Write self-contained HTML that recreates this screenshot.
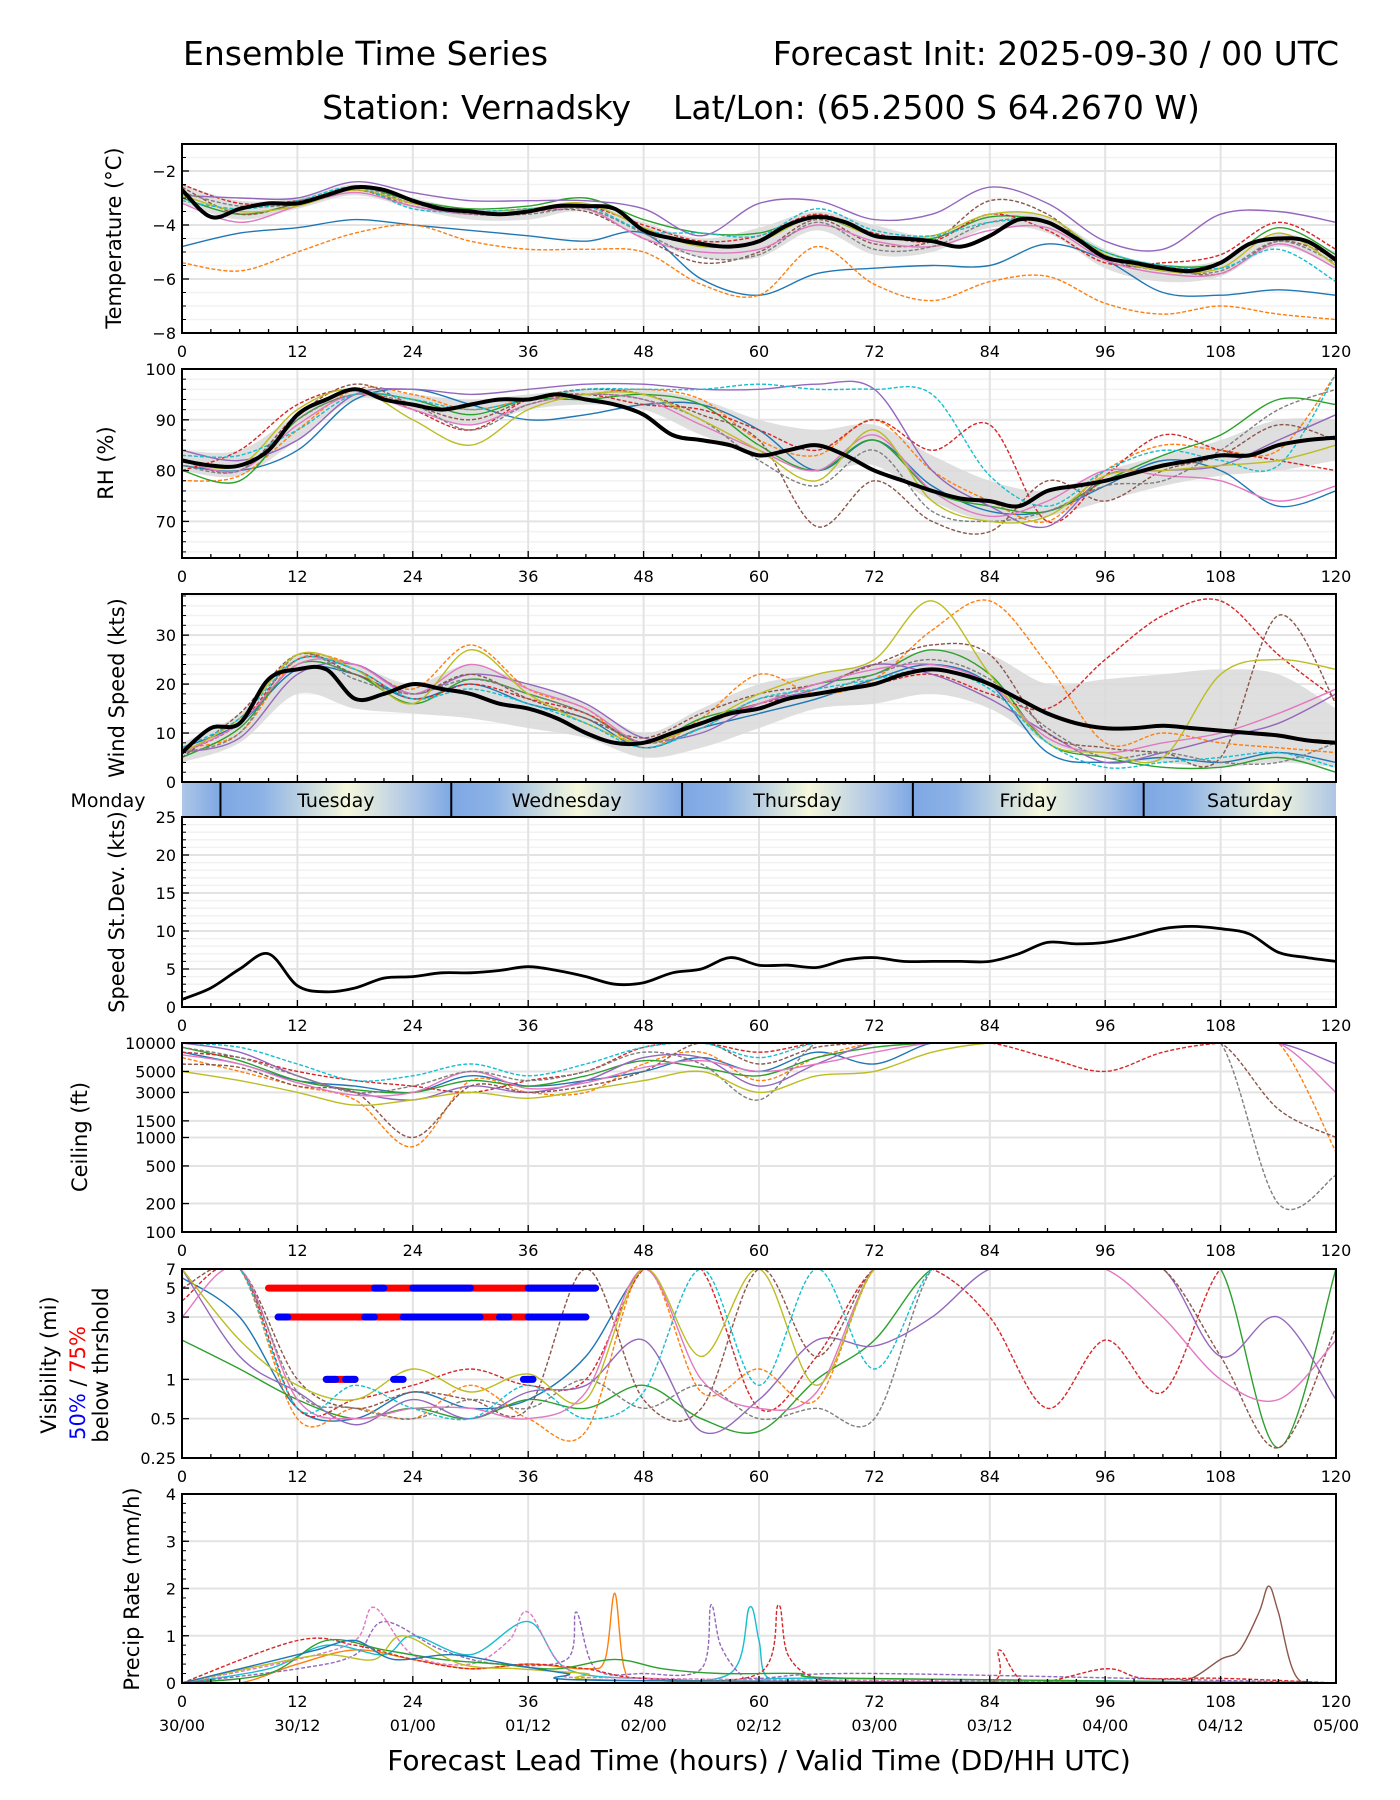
<!DOCTYPE html>
<html><head><meta charset="utf-8">
<style>
html,body{margin:0;padding:0;background:#fff;}
svg{display:block;font-family:"DejaVu Sans","Liberation Sans",sans-serif;}
</style></head>
<body>
<svg id="fig" width="1400" height="1800" viewBox="0 0 1400 1800" xmlns="http://www.w3.org/2000/svg">
<text x="183" y="65" font-size="33">Ensemble Time Series</text>
<text x="1339" y="65" font-size="33" text-anchor="end">Forecast Init: 2025-09-30 / 00 UTC</text>
<text x="761" y="119" font-size="33" text-anchor="middle" xml:space="preserve">Station: Vernadsky    Lat/Lon: (65.2500 S 64.2670 W)</text>
<text x="759" y="1770" font-size="28" text-anchor="middle">Forecast Lead Time (hours) / Valid Time (DD/HH UTC)</text>
</svg>
<script>
// ===== data =====
const hours3 = [0,3,6,9,12,15,18,21,24,27,30,33,36,39,42,45,48,51,54,57,60,63,66,69,72,75,78,81,84,87,90,93,96,99,102,105,108,111,114,117,120];
const hours6 = [0,6,12,18,24,30,36,42,48,54,60,66,72,78,84,90,96,102,108,114,120];
const xTicks = [0,12,24,36,48,60,72,84,96,108,120];
const dateLabels = ["30/00","30/12","01/00","01/12","02/00","02/12","03/00","03/12","04/00","04/12","05/00"];
const dayNames = ["Monday","Tuesday","Wednesday","Thursday","Friday","Saturday"];
const dayBounds = [-20,4,28,52,76,100,124];

const tempMean = [-2.7,-3.7,-3.4,-3.2,-3.2,-2.9,-2.6,-2.7,-3.1,-3.4,-3.5,-3.6,-3.5,-3.3,-3.3,-3.4,-4.2,-4.5,-4.7,-4.8,-4.6,-4.0,-3.7,-3.9,-4.4,-4.5,-4.6,-4.8,-4.4,-3.8,-3.9,-4.5,-5.2,-5.4,-5.6,-5.7,-5.4,-4.7,-4.5,-4.6,-5.3];
const tempLo = [-3.2,-3.8,-3.4,-2.9,-3.4,-3.8,-3.8,-3.5,-4.5,-5.2,-5.2,-4.2,-5.1,-5.0,-4.1,-4.3,-5.6,-6.1,-5.9,-4.8,-5.6];
const tempHi = [-2.5,-3.1,-3.0,-2.5,-3.0,-3.4,-3.4,-3.2,-3.9,-4.5,-4.1,-3.5,-4.0,-4.4,-3.6,-3.7,-4.9,-5.5,-5.3,-4.3,-5.0];
const tempMembers = [
 [-4.8,-4.3,-4.1,-3.8,-4.0,-4.2,-4.4,-4.6,-4.3,-6.0,-6.6,-5.8,-5.6,-5.5,-5.5,-4.7,-5.3,-6.5,-6.6,-6.4,-6.6],
 [-5.4,-5.7,-5.0,-4.3,-4.0,-4.6,-4.9,-4.9,-5.0,-6.2,-6.6,-4.8,-6.2,-6.8,-6.1,-5.9,-6.9,-7.3,-7.0,-7.3,-7.5],
 [-3.0,-3.6,-3.2,-2.6,-3.1,-3.4,-3.3,-3.0,-3.8,-4.3,-4.3,-3.7,-4.4,-4.5,-3.7,-3.9,-5.0,-5.5,-5.4,-4.1,-5.1],
 [-2.5,-3.2,-3.1,-2.7,-3.2,-3.5,-3.4,-3.3,-4.0,-4.6,-4.4,-3.6,-4.3,-4.6,-3.6,-4.2,-5.4,-5.4,-5.1,-3.9,-4.9],
 [-2.9,-3.0,-3.0,-2.4,-2.8,-3.1,-3.1,-3.1,-3.4,-4.4,-3.2,-3.1,-3.8,-3.6,-2.6,-3.2,-4.6,-4.9,-3.6,-3.5,-3.9],
 [-2.6,-3.6,-3.2,-2.7,-3.3,-3.6,-3.5,-3.5,-4.5,-5.4,-5.0,-3.8,-4.7,-4.6,-3.1,-3.6,-5.3,-5.6,-5.8,-4.6,-5.2],
 [-3.2,-3.9,-3.3,-2.8,-3.3,-3.6,-3.5,-3.4,-4.5,-5.0,-4.9,-4.0,-4.6,-4.8,-4.2,-4.1,-5.3,-5.8,-5.8,-4.7,-5.6],
 [-2.8,-3.3,-3.2,-2.6,-3.2,-3.6,-3.6,-3.4,-4.3,-5.2,-5.1,-3.9,-4.9,-4.8,-3.9,-3.9,-5.2,-5.7,-5.7,-4.6,-5.4],
 [-2.9,-3.5,-3.3,-2.7,-3.2,-3.5,-3.4,-3.2,-4.1,-4.8,-4.6,-3.7,-4.4,-4.4,-3.6,-3.7,-5.1,-5.7,-5.6,-4.3,-5.5],
 [-3.1,-3.4,-3.1,-2.6,-3.4,-3.5,-3.4,-3.3,-4.2,-4.3,-4.4,-3.4,-4.2,-4.4,-3.9,-3.9,-5.0,-5.5,-5.6,-4.9,-6.1]
];

const rhMean = [82,81,81,84,91,94,96,94,93,92,93,94,94,95,94,93,91,87,86,85,83,84,85,83,80,78,76,74.5,74,73,76,77,78,79.5,81,82,83,83,85,86,86.5];
const rhLo = [80,79,86,94,92,89,92,93,92,87,83,80,81,74,70,71,74,77,79,80,82];
const rhHi = [84,84,91,96,95,94,95,96,96,94,90,88,89,83,78,76,80,83,86,90,90];
const rhMembers = [
 [81,80,84,94,96,93,90,91,93,93,88,80,86,77,72,72,77,82,80,73,76],
 [78,79,88,96,95,92,94,95,96,94,86,83,90,80,74,70,80,85,84,84,99],
 [80,78,90,95,94,91,94,94,95,93,85,80,86,76,73,72,78,83,87,94,93],
 [80,84,93,96,92,88,94,95,93,92,88,84,90,84,89,70,79,87,84,82,80],
 [84,82,86,95,96,95,96,97,97,96,96,97,96,80,73,69,79,80,81,86,91],
 [82,80,91,97,93,90,94,96,95,91,86,69,78,70,68,78,74,80,83,89,86],
 [82,80,89,95,92,89,93,95,94,89,84,80,87,76,71,74,80,79,78,74,77],
 [81,80,90,95,93,88,93,95,94,90,82,77,84,72,70,72,77,78,84,92,96],
 [82,81,92,96,90,85,92,95,95,90,84,78,88,74,70,71,79,80,81,82,85],
 [83,83,88,95,94,92,94,96,96,96,97,96,96,95,79,73,80,84,82,81,99]
];

const windMean = [6,11,12,21,23,23,17,18,20,19,18,16,15,13,10,8,8,10,12,14,15,17,18,19,20,22,23,22,20,17,14,12,11,11,11.5,11,10.5,10,9.5,8.5,8];
const windLo = [4,8,18,15,14,13,11,9,5,7,11,15,16,18,15,8,5,4,3,4,3];
const windHi = [8,14,26,24,20,24,20,16,10,15,20,22,24,27,26,20,21,22,23,22,15];
const windMembers = [
 [7,12,23,22,17,20,16,13,7,11,14,17,21,24,20,6,4,5,4,6,4],
 [7,10,25,24,19,28,19,15,7,13,22,18,21,31,37,24,8,10,8,7,6],
 [5,11,24,22,16,21,18,14,8,13,16,20,22,27,22,8,5,3,3,5,2],
 [6,12,25,23,17,20,17,14,8,12,16,18,20,22,18,15,25,34,37,26,17],
 [6,9,22,24,18,22,20,16,9,10,16,19,24,22,17,10,4,6,9,12,18],
 [5,14,26,22,18,22,17,13,9,14,18,20,24,28,26,10,7,6,5,34,16],
 [6,12,24,24,18,24,19,15,8,12,16,20,23,24,20,9,6,8,10,14,19],
 [6,10,26,21,18,21,18,14,8,11,17,18,22,25,21,11,5,6,4,4,8],
 [6,13,26,23,16,27,18,12,8,12,18,22,25,37,22,8,6,5,22,25,23],
 [7,13,25,23,17,19,16,12,7,11,17,19,21,23,19,8,3,4,5,6,3]
];

const sdevVals = [1,2.5,5,7,2.8,2,2.5,3.8,4,4.5,4.5,4.8,5.3,4.8,4,3,3.2,4.5,5,6.5,5.5,5.5,5.2,6.2,6.5,6,6,6,6,7,8.5,8.3,8.5,9.3,10.3,10.6,10.3,9.6,7.2,6.5,6];

const ceilMembers = [
 [8000,6000,4000,3500,3000,4500,3500,4000,5000,7000,5000,8000,6000,10000,10000,10000,10000,10000,10000,10000,10000],
 [7000,5000,3500,2500,800,4000,3000,3000,6000,8000,4000,7000,10000,10000,10000,10000,10000,10000,10000,10000,700],
 [9000,6500,4000,3200,3000,4000,3500,4500,6500,5500,4500,7000,9000,10000,10000,10000,10000,10000,10000,10000,10000],
 [8000,7000,5000,4000,3500,3000,4000,5000,9000,10000,8000,10000,10000,10000,10000,7000,5000,8000,10000,10000,10000],
 [10000,8000,4500,3000,2500,3500,3000,4000,7000,7000,3500,6000,10000,10000,10000,10000,10000,10000,10000,10000,6000],
 [6000,5500,3500,3000,1000,3500,3000,3500,5000,10000,6000,9000,10000,10000,10000,10000,10000,10000,10000,2000,1000],
 [7500,6000,3800,2800,3000,5000,3300,3800,5500,6500,5000,6000,8000,10000,10000,10000,10000,10000,10000,10000,3000],
 [9000,7000,4500,3000,3500,5000,4000,5000,8000,6000,2500,10000,10000,10000,10000,10000,10000,10000,10000,200,400],
 [5000,4000,3000,2200,2500,3000,2600,3200,4000,5000,3000,4500,5000,8000,10000,10000,10000,10000,10000,10000,10000],
 [10000,9000,6000,4000,4500,6000,4500,6000,9000,10000,7000,10000,10000,10000,10000,10000,10000,10000,10000,10000,10000]
];
const ceilTicks = [100,200,500,1000,1500,3000,5000,10000];

const visMembers = [
 [6,3,0.6,0.5,0.8,0.6,0.7,1.5,7,7,7,7,7,7,7,7,7,7,7,7,7],
 [7,7,0.5,0.6,0.5,0.9,0.5,0.4,7,0.8,1.2,0.7,7,7,7,7,7,7,7,7,7],
 [2,1.2,0.7,0.5,0.6,0.5,0.7,0.6,0.9,0.5,0.4,1,2,7,7,7,7,7,7,0.3,7],
 [4,7,0.6,0.7,0.9,1.2,0.9,1,7,7,0.6,1.5,7,7,3,0.6,2,0.8,7,7,7],
 [7,1.5,0.8,0.45,0.7,0.5,0.8,0.9,2,0.4,0.7,2,1.8,3,7,7,7,7,1.5,3,0.7],
 [5,7,1,0.6,0.8,0.7,0.6,7,0.7,0.6,7,1.5,7,7,7,7,7,7,1.5,0.3,2.5],
 [3,7,0.7,0.5,0.6,0.6,0.5,0.8,7,1,0.6,0.8,7,7,7,7,7,3,1,0.7,2],
 [7,7,0.8,0.6,0.5,0.7,0.6,1,0.6,0.9,0.5,0.6,0.5,7,7,7,7,7,7,7,7],
 [7,2,0.9,0.7,1.2,0.8,1.1,0.7,7,1.5,7,0.9,7,7,7,7,7,7,7,7,7],
 [7,7,0.6,0.9,0.6,0.5,0.9,0.5,0.8,7,0.9,7,1.2,7,7,7,7,7,7,7,7]
];
const visTicks = [0.25,0.5,1,3,5,7];
// threshold segments [startHour, endHour]
const vis5Red = [[9,43]];
const vis5Blue = [[20,21],[24,30],[36,43]];
const vis3Red = [[10,42]];
const vis3Blue = [[10,11],[19,20],[23,31],[33,34],[36,42]];
const vis1Red = [[15,18]];
const vis1Blue = [[15,16],[17,18],[22,23],[35.5,36.5]];

const precipHours = [
 [0,96,102,105,108,110,112,113,114,116,120],
 [0,6,12,18,24,30,36,42,44,45,46,48,60,120],
 [0,9,15,21,24,30,36,40,48,57,59,60,61,66,120],
 [0,12,18,21,27,33,40,41,43,48,54,55,56,58,60,72,120],
 [0,12,18,24,30,36,42,48,60,62,63,66,72,84,85,88,96,100,108,120],
 [0,12,18,20,24,30,34,36,40,48,120],
 [0,9,15,21,27,33,39,45,50,56,64,70,120],
 [0,9,15,20,23,29,35,42,48,120],
 [0,10,14,18,22,28,34,40,46,120]
];
const precipVals = [
 [0,0,0,0.1,0.5,0.7,1.5,2.05,1.5,0.1,0],
 [0,0,0.4,0.7,0.5,0.3,0.4,0.3,0.5,1.9,0.3,0.1,0,0],
 [0,0.3,0.8,0.6,1.0,0.6,1.3,0.3,0.1,0.2,1.6,0.9,0.1,0.1,0],
 [0,0.3,0.6,1.3,0.7,0.4,0.5,1.5,0.3,0.2,0.3,1.65,0.8,0.2,0.1,0.2,0],
 [0,0.9,0.8,0.5,0.3,0.4,0.3,0.1,0.2,1.65,0.6,0.1,0,0,0.7,0,0.3,0.1,0.1,0],
 [0,0.5,0.9,1.6,0.6,0.4,0.9,1.5,0.3,0.1,0],
 [0,0.2,0.9,0.7,0.5,0.4,0.3,0.5,0.3,0.2,0.2,0.1,0],
 [0,0.4,0.6,0.5,1.0,0.4,0.3,0.2,0.05,0],
 [0,0.5,0.7,0.9,0.5,0.6,0.4,0.2,0.05,0]
];
const precipColors = ["#8c564b","#ff7f0e","#17becf","#9467bd","#d62728","#e377c2","#2ca02c","#bcbd22","#1f77b4"];
const precipDash = [false,false,false,true,true,true,false,false,false];

// ===== drawing =====
const NS = "http://www.w3.org/2000/svg";
const svg = document.getElementById("fig");
const X0 = 182, X1 = 1336;
const tab = ["#1f77b4","#ff7f0e","#2ca02c","#d62728","#9467bd","#8c564b","#e377c2","#7f7f7f","#bcbd22","#17becf"];
function xs(h){ return X0 + h/120*(X1-X0); }
function mk(tag, attrs, parent){
  const e = document.createElementNS(NS, tag);
  for (const k in attrs) e.setAttribute(k, attrs[k]);
  (parent||svg).appendChild(e);
  return e;
}
function smoothPath(pts){
  if (pts.length < 2) return "";
  let d = "M" + pts[0][0].toFixed(1) + "," + pts[0][1].toFixed(1);
  for (let i = 0; i < pts.length-1; i++){
    const p0 = pts[Math.max(0,i-1)], p1 = pts[i], p2 = pts[i+1], p3 = pts[Math.min(pts.length-1,i+2)];
    const c1x = p1[0]+(p2[0]-p0[0])/6, c1y = p1[1]+(p2[1]-p0[1])/6;
    const c2x = p2[0]-(p3[0]-p1[0])/6, c2y = p2[1]-(p3[1]-p1[1])/6;
    d += "C"+c1x.toFixed(1)+","+c1y.toFixed(1)+" "+c2x.toFixed(1)+","+c2y.toFixed(1)+" "+p2[0].toFixed(1)+","+p2[1].toFixed(1);
  }
  return d;
}
let clipId = 0;
function panel(name, top, bottom, ymin, ymax, log){
  const ys = v => {
    if (log){ const a=Math.log(ymin), b=Math.log(ymax); return bottom - (Math.log(v)-a)/(b-a)*(bottom-top); }
    return bottom - (v-ymin)/(ymax-ymin)*(bottom-top);
  };
  const g = mk("g", {});
  
  
  const cp = mk("clipPath", {id:"cp"+(++clipId)}, g);
  mk("rect", {x:X0, y:top, width:X1-X0, height:bottom-top}, cp);
  const plot = mk("g", {"clip-path":"url(#cp"+clipId+")"}, g);
  return {g, plot, ys, top, bottom, name};
}
function grid(P, majors, minors){
  const gg = mk("g", {}, P.plot);
  
  
  (minors||[]).forEach(v => mk("line", {x1:X0,x2:X1,y1:P.ys(v),y2:P.ys(v),stroke:"#f2f2f2","stroke-width":1.5}, gg));
  majors.forEach(v => mk("line", {x1:X0,x2:X1,y1:P.ys(v),y2:P.ys(v),stroke:"#e3e3e3","stroke-width":2}, gg));
  xTicks.forEach(h => mk("line", {x1:xs(h),x2:xs(h),y1:P.top,y2:P.bottom,stroke:"#e3e3e3","stroke-width":2}, gg));
}
function frame(P, yTicks, yLabels, minorY, xlabels){
  const g = P.g;
  mk("rect", {x:X0, y:P.top, width:X1-X0, height:P.bottom-P.top, fill:"none", stroke:"#000", "stroke-width":2}, g);
  for (let h=0; h<=120; h+=3){
    const major = h%12===0;
    mk("line", {x1:xs(h),x2:xs(h),y1:P.bottom,y2:P.bottom-(major?7:4),stroke:"#000","stroke-width":1.3}, g);
  }
  yTicks.forEach((v,i) => {
    mk("line", {x1:X0,x2:X0+7,y1:P.ys(v),y2:P.ys(v),stroke:"#000","stroke-width":1.3}, g);
    const t = mk("text", {x:X0-6, y:P.ys(v)+6, "font-size":16, "text-anchor":"end"}, g);
    
    
    t.textContent = yLabels[i];
  });
  (minorY||[]).forEach(v => mk("line", {x1:X0,x2:X0+4,y1:P.ys(v),y2:P.ys(v),stroke:"#000","stroke-width":1}, g));
  if (xlabels !== false){
    xTicks.forEach(h => {
      const t = mk("text", {x:xs(h), y:P.bottom+24, "font-size":16, "text-anchor":"middle"}, g);
      
      
      t.textContent = h;
    });
  }
}
function ylabel(text, x, cy, name){
  const t = mk("text", {x:x, y:cy, "font-size":21, "text-anchor":"middle", transform:"rotate(-90 "+x+" "+cy+")"});
  
  
  t.textContent = text;
  return t;
}
function memberLines(P, hrs, members, clampFn){
  members.forEach((m,i) => {
    const pts = m.map((v,j) => [xs(hrs[j]), P.ys(clampFn?clampFn(v):v)]);
    const p = mk("path", {d:smoothPath(pts), fill:"none", stroke:tab[i%10], "stroke-width":1.4, "stroke-dasharray": (i%2? "4,2":"none")}, P.plot);
    
    
  });
}
function band(P, lo, hi){
  const up = hi.map((v,j)=>[xs(hours6[j]), P.ys(v)]);
  const dn = lo.map((v,j)=>[xs(hours6[j]), P.ys(v)]).reverse();
  const d = smoothPath(up) + smoothPath(dn).replace("M","L") + "Z";
  const p = mk("path", {d:d, fill:"#d9d9d9", "fill-opacity":0.85, stroke:"none"}, P.plot);
  
  
}
function meanLine(P, vals, w){
  const pts = vals.map((v,j)=>[xs(hours3[j]), P.ys(v)]);
  const p = mk("path", {d:smoothPath(pts), fill:"none", stroke:"#000", "stroke-width":w||4, "stroke-linejoin":"round"}, P.plot);
  
  
}
function range(a,b,s){ const r=[]; for(let v=a; v<=b+1e-9; v+=s) r.push(+v.toFixed(3)); return r; }

// Temperature
const PT = panel("temperature", 144, 333, -8, -1);
grid(PT, [-2,-4,-6,-8], range(-7.5,-1,0.5));
band(PT, tempLo, tempHi);
memberLines(PT, hours6, tempMembers);
meanLine(PT, tempMean);
frame(PT, [-2,-4,-6,-8], ["−2","−4","−6","−8"], range(-7.5,-1,0.5));
ylabel("Temperature (°C)", 121, 238, "temperature-y-axis-title");

// RH
const PR = panel("rh", 369, 558, 62.8, 100);
grid(PR, [70,80,90,100], range(64,100,2));
band(PR, rhLo, rhHi);
memberLines(PR, hours6, rhMembers);
meanLine(PR, rhMean);
frame(PR, [70,80,90,100], ["70","80","90","100"], range(64,100,2));
ylabel("RH (%)", 113, 463, "rh-y-axis-title");

// Wind
const PW = panel("wind-speed", 594, 782, 0, 38.4);
grid(PW, [0,10,20,30], range(2,38,2));
band(PW, windLo, windHi);
memberLines(PW, hours6, windMembers);
meanLine(PW, windMean);
frame(PW, [0,10,20,30], ["0","10","20","30"], range(2,38,2), false);
ylabel("Wind Speed (kts)", 124, 688, "wind-y-axis-title");

// Day bar
(function(){
  const g = mk("g", {});
  
  
  const defs = mk("defs", {}, g);
  const lg = mk("linearGradient", {id:"dayGrad", x1:"0", x2:"1", y1:"0", y2:"0"}, defs);
  mk("stop", {offset:"0", "stop-color":"#7ea8e4"}, lg);
  mk("stop", {offset:"0.18", "stop-color":"#8cb2e6"}, lg);
  mk("stop", {offset:"0.55", "stop-color":"#f6f8dc"}, lg);
  mk("stop", {offset:"0.85", "stop-color":"#a9c3e6"}, lg);
  mk("stop", {offset:"1", "stop-color":"#7ea8e4"}, lg);
  const cp = mk("clipPath", {id:"dayclip"}, defs);
  mk("rect", {x:X0, y:783, width:X1-X0, height:34}, cp);
  const inner = mk("g", {"clip-path":"url(#dayclip)"}, g);
  for (let i=0;i<dayNames.length;i++){
    const a = xs(dayBounds[i]), b = xs(dayBounds[i+1]);
    mk("rect", {x:a, y:783, width:b-a, height:34, fill:"url(#dayGrad)"}, inner);
    if (i>0) mk("line", {x1:a,x2:a,y1:783,y2:817,stroke:"#000","stroke-width":2}, g);
    const cx = i===0 ? 108 : (a+b)/2;
    const t = mk("text", {x: i===5 ? (a+X1)/2 + 10 : cx, y:807, "font-size":19, "text-anchor":"middle"}, g);
    
    
    t.textContent = dayNames[i];
  }
})();

// Std dev
const PS = panel("speed-stdev", 817, 1007, 0, 25);
grid(PS, [0,5,10,15,20,25], range(1,25,1));
meanLine(PS, sdevVals, 2.8);
frame(PS, [0,5,10,15,20,25], ["0","5","10","15","20","25"], range(1,24,1));
ylabel("Speed St.Dev. (kts)", 124, 912, "stdev-y-axis-title");

// Ceiling
const PC = panel("ceiling", 1043, 1232, 100, 10000, true);
grid(PC, ceilTicks, []);
memberLines(PC, hours6, ceilMembers);
frame(PC, ceilTicks, ceilTicks.map(String), []);
ylabel("Ceiling (ft)", 87, 1137, "ceiling-y-axis-title");

// Visibility
const PV = panel("visibility", 1269, 1458, 0.25, 7, true);
grid(PV, visTicks, []);
memberLines(PV, hours6, visMembers, v=>Math.min(7.5,Math.max(0.2,v)));
function segs(arr, val, color){
  arr.forEach(s => {
    const l = mk("line", {x1:xs(s[0]), x2:xs(s[1]), y1:PV.ys(val), y2:PV.ys(val), stroke:color, "stroke-width":7, "stroke-linecap":"round"}, PV.g);
    
    
  });
}
segs(vis5Red,5,"#ff0000"); segs(vis5Blue,5,"#0000ff");
segs(vis3Red,3,"#ff0000"); segs(vis3Blue,3,"#0000ff");
segs(vis1Red,1,"#ff0000"); segs(vis1Blue,1,"#0000ff");
frame(PV, visTicks, ["0.25","0.5","1","3","5","7"], []);
ylabel("Visibility (mi)", 56, 1365, "visibility-y-axis-title");
(function(){
  const t = mk("text", {x:85, y:1383, "font-size":21, "text-anchor":"middle", transform:"rotate(-90 85 1383)"});
  
  
  const a = mk("tspan", {fill:"#0000ff"}, t); a.textContent = "50%";
  const b = mk("tspan", {fill:"#000"}, t); b.textContent = " / ";
  const c = mk("tspan", {fill:"#ff0000"}, t); c.textContent = "75%";
})();
ylabel("below thrshold", 108, 1365, "visibility-y-axis-subtitle");

// Precip
const PP = panel("precip-rate", 1494, 1683, 0, 4);
grid(PP, [0,1,2,3,4], []);
precipHours.forEach((hrs,i) => {
  const pts = hrs.map((h,j)=>[xs(h), PP.ys(precipVals[i][j])]);
  const p = mk("path", {d:smoothPath(pts), fill:"none", stroke:precipColors[i], "stroke-width":1.4, "stroke-dasharray": precipDash[i]?"4,2":"none"}, PP.plot);
  
  
});
frame(PP, [0,1,2,3,4], ["0","1","2","3","4"], range(0.2,3.8,0.2));
ylabel("Precip Rate (mm/h)", 139, 1589, "precip-y-axis-title");
dateLabels.forEach((d,i) => {
  const t = mk("text", {x:xs(xTicks[i]), y:1731, "font-size":16, "text-anchor":"middle"});
  
  
  t.textContent = d;
});
</script>
</body></html>
